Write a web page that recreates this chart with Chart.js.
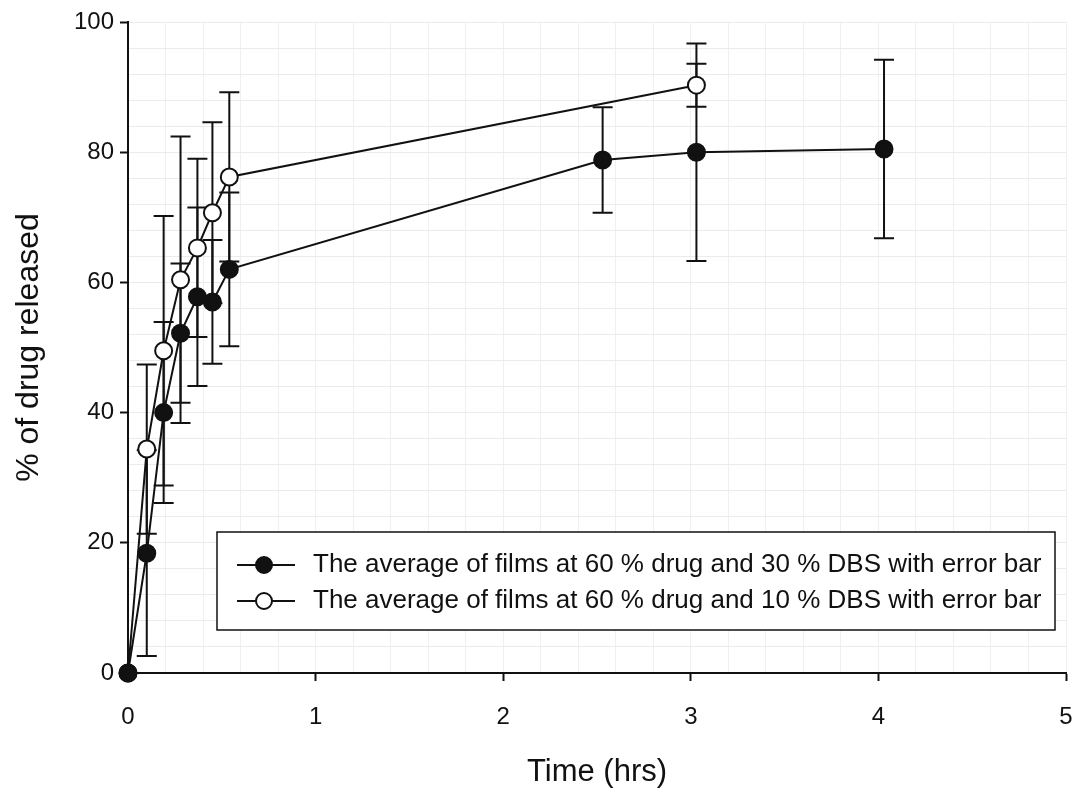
<!DOCTYPE html>
<html>
<head>
<meta charset="utf-8">
<script src="https://cdn.jsdelivr.net/npm/chart.js@4.4.1/dist/chart.umd.min.js"></script>
<style>
  body { margin: 0; background: #fff; }
  canvas { display: block; }
</style>
</head>
<body>
<canvas id="releaseChart" width="1078" height="793"></canvas>
<script>
// time points (hrs) and % released
const timeDbs30 = [0, 0.1, 0.19, 0.28, 0.37, 0.45, 0.54, 2.53, 3.03, 4.03];
const releaseDbs30 = [0, 18.4, 40, 52.2, 57.8, 57, 62, 78.8, 80, 80.5];
const errorDbs30 = [0, 15.8, 13.9, 10.7, 13.7, 9.5, 11.8, 8.1, 16.7, 13.7];

const timeDbs10 = [0, 0.1, 0.19, 0.28, 0.37, 0.45, 0.54, 3.03];
const releaseDbs10 = [0, 34.4, 49.5, 60.4, 65.3, 70.7, 76.2, 90.3];
const errorDbs10 = [0, 13, 20.7, 22, 13.7, 13.9, 13, 3.3];

const legendLabels = [
  'The average of films at 60 % drug and 30 % DBS with error bar',
  'The average of films at 60 % drug and 10 % DBS with error bar'
];
const xTicks = [0, 1, 2, 3, 4, 5];
const yTicks = [0, 20, 40, 60, 80, 100];

const FONT = '"Liberation Sans", Arial, Helvetica, sans-serif';

const toPoints = (xs, ys, errs) => xs.map((x, i) => ({ x, y: ys[i], err: errs[i] }));

// error bars: vertical line with caps, drawn under the markers
const errorBars = {
  id: 'errorBars',
  beforeDatasetsDraw(chart) {
    const { ctx, scales: { x, y } } = chart;
    ctx.save();
    ctx.strokeStyle = '#111';
    ctx.lineWidth = 2;
    chart.data.datasets.forEach((ds) => {
      ds.data.forEach((p) => {
        if (!p.err) return;
        const px = x.getPixelForValue(p.x);
        const top = y.getPixelForValue(p.y + p.err);
        const bot = y.getPixelForValue(p.y - p.err);
        ctx.beginPath();
        ctx.moveTo(px, top); ctx.lineTo(px, bot);
        ctx.moveTo(px - 10, top); ctx.lineTo(px + 10, top);
        ctx.moveTo(px - 10, bot); ctx.lineTo(px + 10, bot);
        ctx.stroke();
      });
    });
    ctx.restore();
  }
};

// boxed legend sitting inside the plot, lower right
const boxLegend = {
  id: 'boxLegend',
  afterDraw(chart) {
    const { ctx, chartArea } = chart;
    const left = chartArea.left + 89;
    const right = chartArea.right - 11;
    const top = chartArea.bottom - 141;
    const bottom = chartArea.bottom - 43;
    ctx.save();
    ctx.fillStyle = '#fff';
    ctx.fillRect(left, top, right - left, bottom - top);
    ctx.strokeStyle = '#111';
    ctx.lineWidth = 1.5;
    ctx.strokeRect(left, top, right - left, bottom - top);

    chart.data.datasets.forEach((ds, i) => {
      const rowY = top + 33 + i * 36;
      ctx.strokeStyle = '#111';
      ctx.lineWidth = 2;
      ctx.beginPath();
      ctx.moveTo(left + 20, rowY);
      ctx.lineTo(left + 78, rowY);
      ctx.stroke();
      ctx.beginPath();
      ctx.arc(left + 47, rowY, 8, 0, Math.PI * 2);
      ctx.fillStyle = ds.pointBackgroundColor;
      ctx.fill();
      ctx.stroke();
      ctx.fillStyle = '#111';
      ctx.font = '26px ' + FONT;
      ctx.textBaseline = 'middle';
      ctx.fillText(legendLabels[i], left + 96, rowY);
    });
    ctx.restore();
  }
};

new Chart(document.getElementById('releaseChart'), {
  type: 'line',
  data: {
    datasets: [
      {
        label: legendLabels[0],
        data: toPoints(timeDbs30, releaseDbs30, errorDbs30),
        borderColor: '#111',
        borderWidth: 2,
        pointRadius: 8.5,
        pointBackgroundColor: '#111',
        pointBorderColor: '#111',
        pointBorderWidth: 2,
        tension: 0,
        clip: false
      },
      {
        label: legendLabels[1],
        data: toPoints(timeDbs10, releaseDbs10, errorDbs10),
        borderColor: '#111',
        borderWidth: 2,
        pointRadius: 8.5,
        pointBackgroundColor: '#fff',
        pointBorderColor: '#111',
        pointBorderWidth: 2,
        tension: 0,
        clip: false
      }
    ]
  },
  options: {
    responsive: false,
    animation: false,
    layout: { padding: { top: 22, right: 12, left: 0, bottom: 0 } },
    plugins: {
      legend: { display: false },
      tooltip: { enabled: false }
    },
    scales: {
      x: {
        type: 'linear',
        min: 0,
        max: 5,
        afterFit: (axis) => { axis.height = 120; axis.paddingRight = 0; axis.paddingLeft = 0; },
        afterBuildTicks: (axis) => { axis.ticks = xTicks.map((v) => ({ value: v })); },
        border: { color: '#111', width: 2 },
        grid: { drawOnChartArea: false, drawTicks: true, tickLength: 8, color: '#111', tickWidth: 2 },
        ticks: { color: '#111', font: { family: FONT, size: 24 }, padding: 22 },
        title: {
          display: true,
          text: 'Time (hrs)',
          color: '#111',
          font: { family: FONT, size: 31 },
          padding: { top: 0, bottom: 2 }
        }
      },
      xGrid: {
        type: 'linear',
        position: 'bottom',
        min: 0,
        max: 5,
        display: true,
        ticks: { display: false, stepSize: 0.2 },
        border: { display: false },
        grid: { color: '#f0f0f0', drawTicks: false },
        afterFit: (axis) => { axis.height = 0; axis.paddingRight = 0; axis.paddingLeft = 0; }
      },
      y: {
        min: 0,
        max: 100,
        afterFit: (axis) => { axis.width = 128; },
        afterBuildTicks: (axis) => { axis.ticks = yTicks.map((v) => ({ value: v })); },
        border: { color: '#111', width: 2 },
        grid: { drawOnChartArea: false, drawTicks: true, tickLength: 8, color: '#111', tickWidth: 2 },
        ticks: { color: '#111', font: { family: FONT, size: 24 }, padding: 6 },
        title: {
          display: true,
          text: '% of drug released',
          color: '#111',
          font: { family: FONT, size: 32 },
          padding: { top: 10, bottom: 0 }
        }
      },
      yGrid: {
        position: 'left',
        min: 0,
        max: 100,
        display: true,
        ticks: { display: false, stepSize: 4 },
        border: { display: false },
        grid: { color: '#ebebeb', drawTicks: false },
        afterFit: (axis) => { axis.width = 0; }
      }
    }
  },
  plugins: [errorBars, boxLegend]
});
</script>
</body>
</html>
